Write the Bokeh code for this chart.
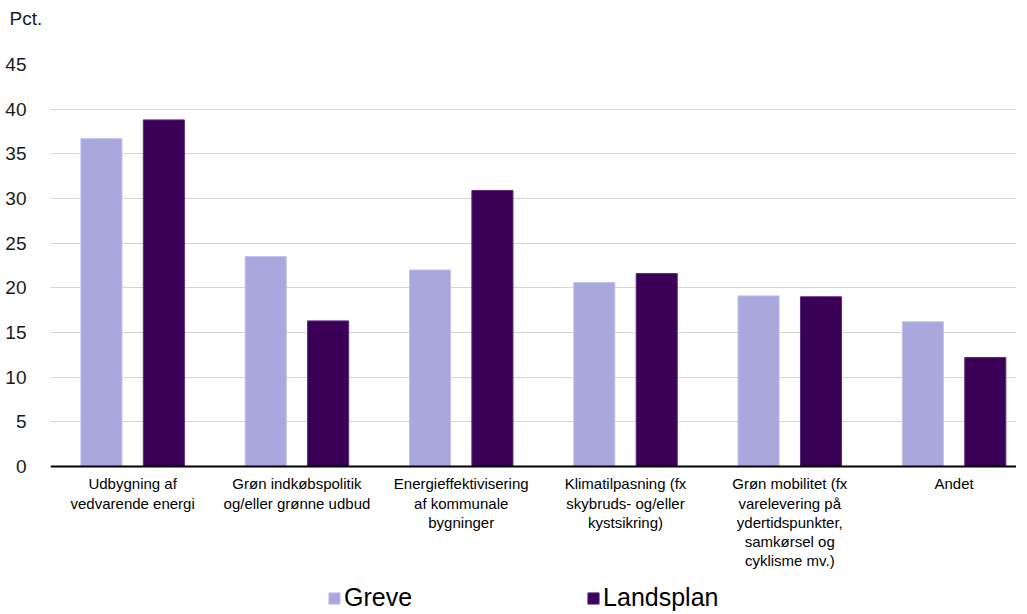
from bokeh.plotting import figure
from bokeh.models import ColumnDataSource, FixedTicker, Legend, LegendItem, Range1d, Title, Span
from bokeh.transform import dodge
from bokeh.core.properties import value
from bokeh.embed import file_html
from bokeh.resources import INLINE

categories = [
    "Udbygning af\nvedvarende energi",
    "Grøn indkøbspolitik\nog/eller grønne udbud",
    "Energieffektivisering\naf kommunale\nbygninger",
    "Klimatilpasning (fx\nskybruds- og/eller\nkystsikring)",
    "Grøn mobilitet (fx\nvarelevering på\nydertidspunkter,\nsamkørsel og\ncyklisme mv.)",
    "Andet",
]
greve = [36.7, 23.5, 22.0, 20.6, 19.1, 16.2]
landsplan = [38.8, 16.3, 30.9, 21.6, 19.0, 12.2]
series_names = ["Greve", "Landsplan"]
y_ticks = [0, 5, 10, 15, 20, 25, 30, 35, 40, 45]
unit_label = "Pct."

xpos = [i + 0.5 for i in range(len(categories))]
src = ColumnDataSource(dict(x=xpos, greve=greve, landsplan=landsplan,
                            cat=categories, ly=[-1.0] * len(categories)))

FONT = "Liberation Sans"

# frame extends below the zero line to hold category labels and legend
p = figure(frame_width=966, frame_height=548, output_backend="svg", toolbar_location=None,
           x_range=Range1d(0, 5.88), y_range=Range1d(-16.34, 45),
           title=Title(text=unit_label, align="left", offset=-41, standoff=0,
                       text_font=FONT, text_font_size="19px", text_font_style="normal",
                       text_color="#1a1a1a"),
           min_border_left=50, min_border_right=0, min_border_top=64, min_border_bottom=0)
p.outline_line_color = None
p.add_layout(Title(text=" ", text_font_size="1px", standoff=33), "above")

r1 = p.vbar(x=dodge("x", -0.19), top="greve", width=0.25, source=src,
            fill_color="#aaa6de", line_color="#c4c1ea", line_width=1)
r2 = p.vbar(x=dodge("x", 0.19), top="landsplan", width=0.25, source=src,
            fill_color="#3a0057", line_color="#5a2a78", line_width=1)

p.add_layout(Span(location=0, dimension="width", line_color="#000000", line_width=2))

p.text(x="x", y="ly", text="cat", source=src, text_font=value(FONT),
       text_font_size="15px", text_color="#000000", text_align="center",
       text_baseline="top", text_line_height=1.13)

p.xaxis.visible = False

p.yaxis.ticker = FixedTicker(ticks=y_ticks)
p.yaxis.axis_label = None
p.yaxis.axis_line_color = None
p.yaxis.major_tick_line_color = None
p.yaxis.minor_tick_line_color = None
p.yaxis.major_label_text_font = FONT
p.yaxis.major_label_text_font_size = "19px"
p.yaxis.major_label_text_color = "#1a1a1a"
p.yaxis.major_label_standoff = 18

p.xgrid.grid_line_color = None
p.ygrid.grid_line_color = "#d4d4d4"
p.ygrid.grid_line_width = 1

legend = Legend(items=[LegendItem(label=series_names[0], renderers=[r1]),
                       LegendItem(label=series_names[1], renderers=[r2])],
                orientation="horizontal", location=(277, 0),
                glyph_width=14, glyph_height=14, label_standoff=3, label_height=14,
                spacing=174, padding=0, margin=0, border_line_color=None,
                label_text_font=FONT, label_text_font_size="25px",
                label_text_color="#000000", background_fill_alpha=0)
p.add_layout(legend, "center")

open("out.html", "w").write(file_html(p, INLINE))
